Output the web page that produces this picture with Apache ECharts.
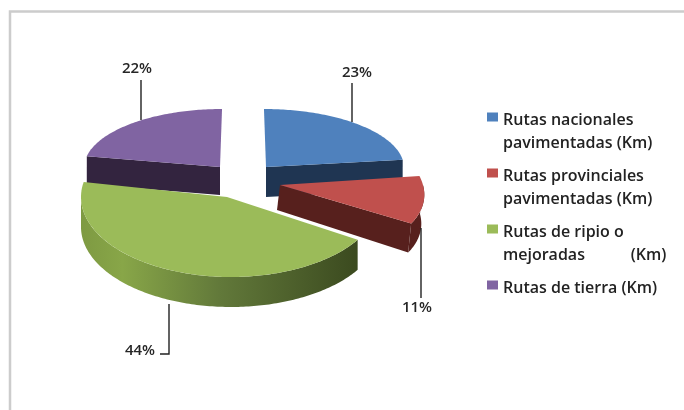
<!DOCTYPE html>
<html>
<head>
<meta charset="utf-8">
<style>
    html, body { margin: 0; padding: 0; background: #fff; }
    #main { width: 684px; height: 410px; }
</style>
<script src="https://cdn.jsdelivr.net/npm/echarts@6/dist/echarts.min.js"></script>
</head>
<body>
<div id="main"></div>
<script>
    var categories = [
        'Rutas nacionales\npavimentadas (Km)',
        'Rutas provinciales\npavimentadas (Km)',
        'Rutas de ripio o\nmejoradas           (Km)',
        'Rutas de tierra (Km)\n '
    ];
    var shares = [23, 11, 44, 22];
    var colors = ['#4f81bd', '#c0504d', '#9bbb59', '#8064a2'];
    var wallColors = ['#1f3552', '#57201d', '#3e4d20', '#33243f'];

    // each slice has its own ellipse, that is how the perspective of the original looks
    var shapes = [
        { cx: 266, cy: 167, rx: 138, ry: 58, k: 0.035, depth: 30, dx: 0, ax: 266, z: 2 },
        { cx: 280, cy: 185, rx: 143, ry: 72, k: 0.27, depth: 29, dx: -3, ax: 280, z: 4 },
        { cx: 231, cy: 197, rx: 150, ry: 80, k: 0, depth: 30, dx: 0, ax: 227, z: 3 },
        { cx: 220, cy: 167, rx: 136, ry: 58, k: -0.035, depth: 28, dx: 0, ax: 220, z: 2 }
    ];
    var leaders = [
        [[352, 83], [352, 122]],
        [[421, 228], [421, 298]],
        [[169, 304], [169, 354], [160, 354]],
        [[141, 80], [141, 120]]
    ];
    var labelPos = [[357, 73], [417, 308], [140, 351], [137, 69]];

    var total = shares.reduce(function (a, b) { return a + b; }, 0);
    var FONT = '"Open Sans", "Noto Sans", sans-serif';

    function ptOn(s, deg, down) {
        var t = deg * Math.PI / 180;
        var yy = -s.ry * Math.cos(t);
        return [
            s.cx + s.rx * Math.sin(t) + s.k * yy + (down ? s.dx : 0),
            s.cy + yy + (down || 0)
        ];
    }

    function arc(s, from, to, down) {
        var pts = [];
        var n = Math.max(2, Math.ceil(Math.abs(to - from)));
        for (var i = 0; i <= n; i++) {
            pts.push(ptOn(s, from + (to - from) * i / n, down));
        }
        return pts;
    }

    function makeRender(idx) {
        return function (params, api) {
            var s = shapes[idx];
            var start = 0;
            for (var i = 0; i < idx; i++) {
                start += shares[i] / total * 360;
            }
            var value = api.value(0);
            var end = start + value / total * 360;
            var children = [];

            // side wall on the cut, only when it faces the viewer
            if (end < 180 || start > 180) {
                var a = end < 180 ? end : start;
                var p = ptOn(s, a);
                var p2 = ptOn(s, a, s.depth);
                children.push({
                    type: 'polygon',
                    shape: { points: [[s.ax, s.cy], p, p2, [s.ax + s.dx, s.cy + s.depth - (idx == 1 ? 4 : 0)]] },
                    style: { fill: wallColors[idx] }
                });
            }

            // outer rim
            var from = Math.max(start, 90);
            var to = Math.min(end, 270);
            if (to > from) {
                var top = arc(s, from, to, 0);
                var bottom = arc(s, to, from, s.depth);
                var fill = wallColors[idx];
                if (idx == 2) {
                    fill = {
                        type: 'linear', x: 0, y: 0, x2: 1, y2: 0,
                        colorStops: [
                            { offset: 0, color: '#7e9a42' },
                            { offset: 0.15, color: '#88a648' },
                            { offset: 0.5, color: '#62793a' },
                            { offset: 1, color: '#3b4a1f' }
                        ]
                    };
                }
                children.push({
                    type: 'polygon',
                    shape: { points: top.concat(bottom) },
                    style: { fill: fill }
                });
            }

            // top face
            children.push({
                type: 'polygon',
                shape: { points: [[s.ax, s.cy]].concat(arc(s, start, end, 0)) },
                style: { fill: colors[idx] }
            });

            children.push({
                type: 'polyline',
                shape: { points: leaders[idx] },
                style: { stroke: '#222', lineWidth: 1.4, fill: null }
            });
            children.push({
                type: 'text',
                style: {
                    text: Math.round(value / total * 100) + '%',
                    x: labelPos[idx][0],
                    y: labelPos[idx][1],
                    fill: '#262626',
                    font: '600 15px ' + FONT,
                    align: 'center',
                    verticalAlign: 'middle'
                }
            });
            return { type: 'group', children: children };
        };
    }

    var myChart = echarts.init(document.getElementById('main'));

    var series = categories.map(function (name, i) {
        return {
            name: name,
            type: 'custom',
            coordinateSystem: 'none',
            z: shapes[i].z,
            itemStyle: { color: colors[i] },
            data: [[shares[i]]],
            renderItem: makeRender(i)
        };
    });

    var option = {
        animation: false,
        backgroundColor: '#fff',
        legend: {
            orient: 'vertical',
            left: 487,
            top: 109,
            padding: 0,
            itemWidth: 11,
            itemHeight: 46,
            itemGap: 10,
            selectedMode: false,
            // icon sits on the first text line, the tiny second part only stretches its box
            data: categories.map(function (name) {
                return { name: name, icon: 'path://M0 7H11V16H0Z M0 46H0.01V46.01H0Z' };
            }),
            textStyle: {
                color: '#222',
                fontFamily: FONT,
                fontWeight: 600,
                fontSize: 16,
                lineHeight: 23
            }
        },
        graphic: [{
            type: 'rect',
            silent: true,
            z: 0,
            shape: { x: 10, y: 11.5, width: 720, height: 460 },
            style: { fill: 'none', stroke: '#cccccc', lineWidth: 2.5 }
        }],
        series: series
    };
    myChart.setOption(option);
</script>
</body>
</html>
